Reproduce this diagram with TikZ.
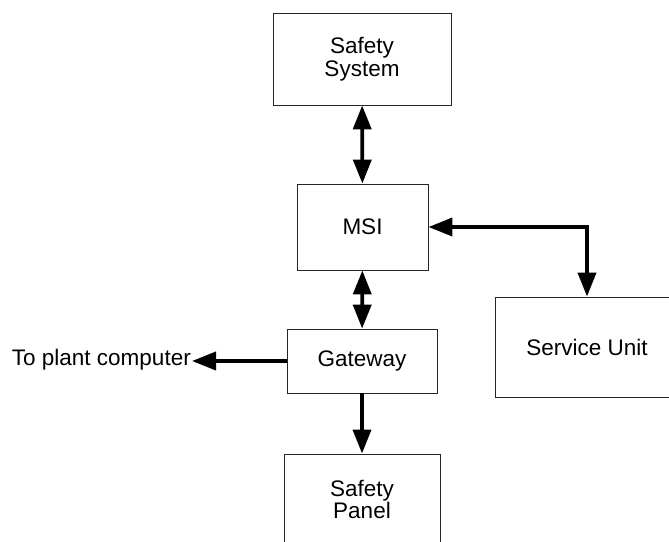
\documentclass[tikz,border=0pt]{standalone}
\usepackage{fontspec}
\setmainfont{Liberation Sans}
\usetikzlibrary{arrows.meta}
\begin{document}
\begin{tikzpicture}[x=1pt,y=-1pt]
    \tikzstyle{blk}=[draw=black!85, line width=0.9pt, fill=white, inner sep=2pt, align=center, font=\fontsize{22.5}{22.5}\selectfont];
    \tikzstyle{conn}=[line width=3.8pt, arrows={-Triangle[width=18pt,length=24pt]}];
    \tikzstyle{dconn}=[line width=3.8pt, arrows={Triangle[width=18pt,length=24pt]-Triangle[width=18pt,length=24pt]}];

    \useasboundingbox (0,0) rectangle (669,541);
    \clip (0,0) rectangle (669,541);

	\node (ss) at (362, 59) [blk, minimum width=178pt, minimum height=92pt] {Safety\\System};
	\node (msi) at (362.5, 227) [blk, minimum width=131pt, minimum height=86pt] {MSI};
	\node (gw) at (362, 361) [blk, minimum width=150pt, minimum height=64pt] {Gateway};
	\node (sp) at (362, 499.5) [blk, minimum width=156pt, minimum height=91pt] {Safety\\Panel};
	\node (su) at (587, 347) [blk, minimum width=184pt, minimum height=100pt] {Service Unit};
	\node (pc) at (192, 360) [anchor=east, inner sep=1pt, font=\fontsize{22.5}{22.5}\selectfont] {To plant computer};

	\draw[dconn] (ss) -- (msi);
	\draw[dconn] (msi) -- (gw);
	\draw[dconn] (msi.east) -| (su.north);
	\draw[conn] (gw.west) -- (gw.west -| pc.east);
	\draw[conn] (gw) -- (sp);
\end{tikzpicture}
\end{document}
